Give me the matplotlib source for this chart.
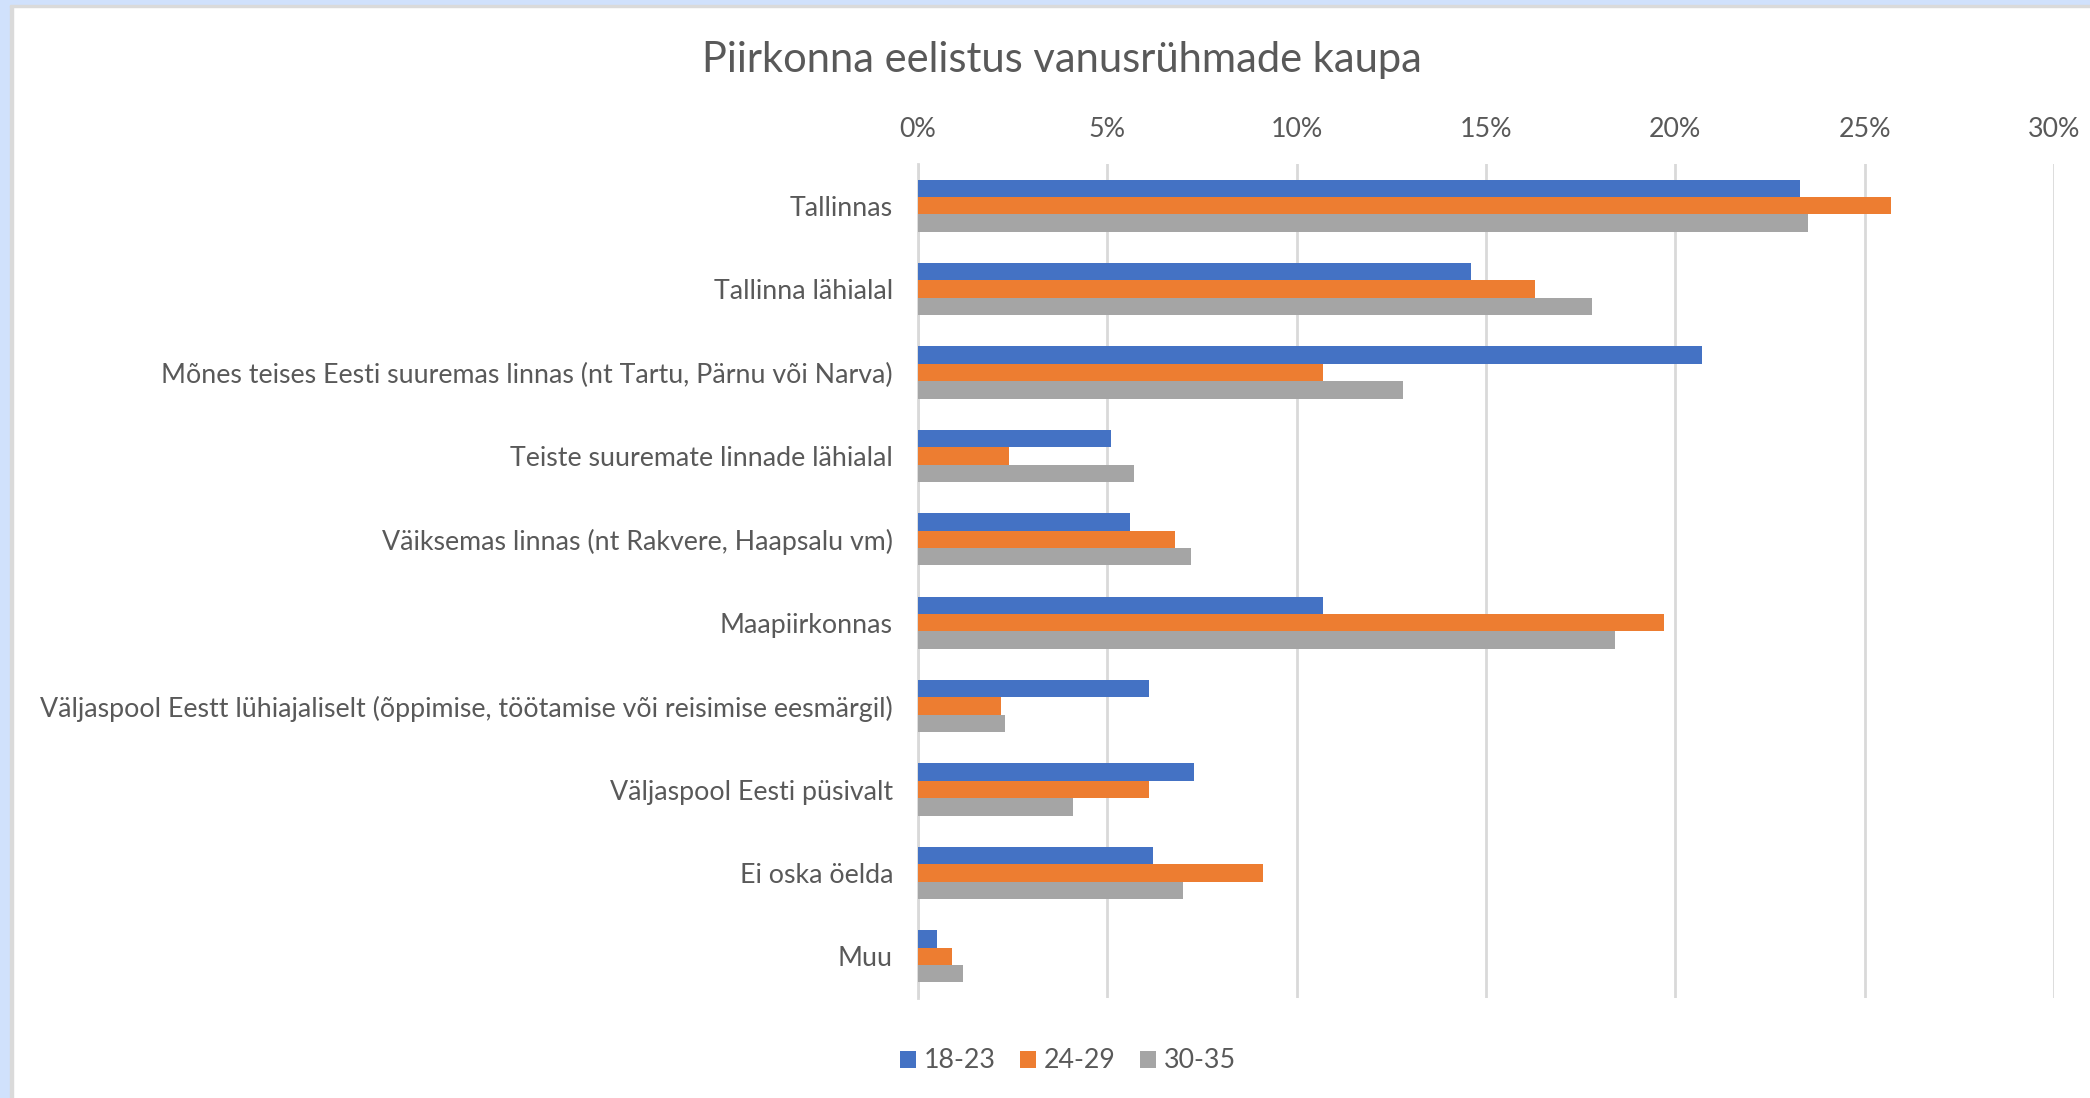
import numpy as np
import matplotlib
matplotlib.use("Agg")
import matplotlib.pyplot as plt
from matplotlib.patches import Rectangle
from matplotlib.ticker import FuncFormatter

plt.rcParams['font.family'] = ['Lato', 'DejaVu Sans']

categories = [
    "Tallinnas",
    "Tallinna lähialal",
    "Mõnes teises Eesti suuremas linnas (nt Tartu, Pärnu või Narva)",
    "Teiste suuremate linnade lähialal",
    "Väiksemas linnas (nt Rakvere, Haapsalu vm)",
    "Maapiirkonnas",
    "Väljaspool Eestt lühiajaliselt (õppimise, töötamise või reisimise eesmärgil)",
    "Väljaspool Eesti püsivalt",
    "Ei oska öelda",
    "Muu",
]
series_names = ["18-23", "24-29", "30-35"]
age_18_23 = [23.3, 14.6, 20.7, 5.1, 5.6, 10.7, 6.1, 7.3, 6.2, 0.5]
age_24_29 = [25.7, 16.3, 10.7, 2.4, 6.8, 19.7, 2.2, 6.1, 9.1, 0.9]
age_30_35 = [23.5, 17.8, 12.8, 5.7, 7.2, 18.4, 2.3, 4.1, 7.0, 1.2]
x_ticks = [0, 5, 10, 15, 20, 25, 30]

colors = ["#4472C4", "#ED7D31", "#A5A5A5"]
text_col = "#595959"
grid_col = "#D9D9D9"

W, H = 2090, 1098
fig = plt.figure(figsize=(W / 100, H / 100), dpi=100)

# screenshot frame (light blue strip left/top)
fig.patches.append(Rectangle((0, 0), 10 / W, 1, transform=fig.transFigure,
                             color="#D0E1FC", zorder=0))
fig.patches.append(Rectangle((10 / W, 0), 2.5 / W, 1 - 5 / H, transform=fig.transFigure,
                             color="#DADADA", zorder=0))
fig.patches.append(Rectangle((0, 1 - 5 / H), 1, 5 / H, transform=fig.transFigure,
                             color="#D0E1FC", zorder=0))
fig.patches.append(Rectangle((10 / W, 1 - 7 / H), 1, 2 / H, transform=fig.transFigure,
                             color="#DADADA", zorder=0))

left, right, top, bottom = 918 / W, 2054 / W, 1 - 164 / H, 1 - 998 / H
ax = fig.add_axes([left, bottom, right - left, top - bottom])

y = np.arange(len(categories))
h = 0.625 / 3
for i, (vals, c, name) in enumerate(zip([age_18_23, age_24_29, age_30_35], colors, series_names)):
    ax.barh(y + (i - 1) * h, vals, height=h, color=c, label=name, zorder=3)

ax.set_xlim(0, 30)
ax.set_ylim(len(categories) - 0.5, -0.5)
ax.set_xticks(x_ticks)
ax.xaxis.set_major_formatter(FuncFormatter(lambda v, p: f"{v:.0f}%"))
ax.xaxis.tick_top()
ax.set_yticks(y)
ax.set_yticklabels(categories)
ax.tick_params(axis="x", length=0, pad=16, labelsize=19.3, labelcolor=text_col)
ax.tick_params(axis="y", length=0, pad=18, labelsize=19.3, labelcolor=text_col)
ax.grid(axis="x", color=grid_col, linewidth=2, zorder=0)
for s in ["top", "right", "bottom"]:
    ax.spines[s].set_visible(False)
ax.spines["left"].set_color(grid_col)
ax.spines["left"].set_linewidth(2)

fig.text(1062 / W, 1 - 60 / H, "Piirkonna eelistus vanusrühmade kaupa",
         ha="center", va="center", fontsize=30, color=text_col)

leg = fig.legend(loc="center", bbox_to_anchor=(1068 / W, 1 - 1061 / H), ncol=3,
                 frameon=False, fontsize=19.3, handlelength=0.6, handleheight=0.6,
                 handletextpad=0.3, columnspacing=0.9)
for t in leg.get_texts():
    t.set_color(text_col)

fig.savefig("out.png", dpi=100, facecolor="white")
